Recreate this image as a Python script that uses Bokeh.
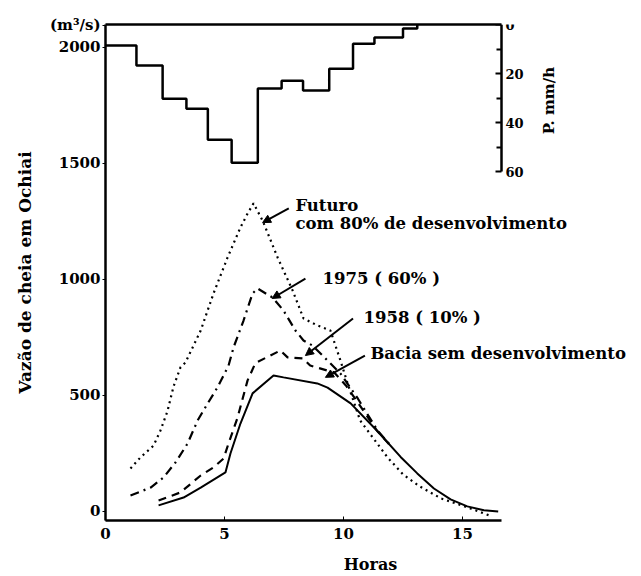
import math
from bokeh.plotting import figure
from bokeh.models import Range1d, LinearAxis, FixedTicker, Label, Arrow, NormalHead
from bokeh.embed import file_html
from bokeh.resources import INLINE

# ---------------- data ----------------
# hyetograph (rain intensity, mm/h) : step edges in hours and intensities
rain_edges = [0, 1.3, 2.4, 3.4, 4.3, 5.3, 6.4, 7.4, 8.3, 9.4, 10.4, 11.3, 12.5, 13.1]
rain_mmh = [8.6, 16.7, 30.2, 34.3, 46.9, 56.3, 26.1, 22.9, 26.9, 18.0, 7.8, 5.3, 1.6]

# hydrographs (hours, m3/s)
futuro_h = [1.05, 1.47, 2.02, 2.31, 2.6, 2.86, 3.15, 3.36, 4.0, 4.54, 5.13, 5.67, 5.97, 6.22,
            6.6, 7.23, 7.86, 8.32, 8.9, 9.45, 9.87, 10.2, 10.7, 11.85, 12.5, 13.2, 14.1, 15.2, 16.2]
futuro_q = [185, 233, 284, 349, 431, 539, 621, 642, 780, 940, 1095, 1224, 1284, 1328,
            1254, 1095, 953, 832, 802, 780, 651, 543, 392, 233, 160, 108, 56, 18, -20]

y1975_h = [1.05, 1.9, 2.44, 2.94, 3.45, 3.87, 4.29, 4.7, 5.17, 5.38, 5.8, 6.18, 6.39,
           7.02, 7.48, 7.98, 8.32, 8.7, 9.87, 10.6, 11.43, 12.0]
y1975_q = [69, 103, 147, 211, 293, 392, 465, 534, 629, 707, 823, 940, 961,
           922, 866, 780, 737, 715, 595, 487, 349, 281]

y1958_h = [2.23, 3.15, 4.0, 4.54, 4.96, 5.17, 5.55, 5.97, 6.3, 7.35, 7.65, 8.3, 8.6, 9.3,
           9.6, 10.1, 10.6, 11.4, 12.0]
y1958_q = [47, 82, 155, 190, 228, 293, 405, 565, 640, 694, 664, 660, 629, 608,
           600, 543, 470, 349, 281]

bacia_h = [2.23, 3.28, 4.0, 5.04, 5.25, 5.67, 6.18, 7.06, 7.48, 8.9, 9.33, 10.3, 11.4,
           12.4, 13.1, 13.8, 14.5, 15.2, 15.9, 16.5]
bacia_q = [26, 60, 103, 168, 250, 379, 509, 586, 578, 552, 534, 466, 349,
           235, 164, 99, 52, 22, 5, 0]

q_ticks = [0, 500, 1000, 1500, 2000]
q_unit_label = "(m³/s)"
h_ticks = [0, 5, 10, 15]
p_ticks = [0, 20, 40, 60]
p_minor = [10, 30, 50]

label_texts = ["Futuro", "com 80% de desenvolvimento", "1975 ( 60% )",
               "1958 ( 10% )", "Bacia sem desenvolvimento"]

FONT = "DejaVu Serif"
INK = "black"
H_END = 16.64      # end of the time axis (hours)
Q_START, Q_END = -39, 2099
FW = 530

# ---------------- figure ----------------
p = figure(frame_width=FW, frame_height=496, output_backend="svg", toolbar_location=None,
           x_range=Range1d(0, FW / 23.8), y_range=Range1d(Q_START, Q_END),
           min_border_left=105, min_border_right=0, min_border_top=24,
           min_border_bottom=56)
p.extra_y_ranges = {"rain": Range1d(start=202, end=0)}
p.outline_line_color = None
p.xgrid.visible = False
p.ygrid.visible = False
p.background_fill_color = "white"
p.border_fill_color = "white"

# left axis (unit label drawn as an extra tick label at the top)
ya = p.yaxis[0]
ya.ticker = FixedTicker(ticks=q_ticks + [Q_END - 4])
ya.major_label_overrides = {Q_END - 4: q_unit_label}
ya.axis_line_width = 2.5
ya.axis_line_color = INK
ya.major_tick_line_color = INK
ya.major_tick_in = 0
ya.major_tick_out = 3
ya.minor_tick_line_color = None
ya.major_label_standoff = 2
ya.major_label_text_font = FONT
ya.major_label_text_font_style = "bold"
ya.major_label_text_font_size = "15px"
ya.major_label_text_color = INK
ya.axis_label = "Vazão de cheia em Ochiai"
ya.axis_label_text_font = FONT
ya.axis_label_text_font_style = "bold"
ya.axis_label_text_font_size = "17px"
ya.axis_label_text_color = INK
ya.axis_label_standoff = 12

# bottom axis
xa = p.xaxis[0]
xa.bounds = (0, H_END)
xa.ticker = FixedTicker(ticks=h_ticks)
xa.axis_line_width = 2.5
xa.axis_line_color = INK
xa.major_tick_line_color = INK
xa.major_tick_in = 4
xa.major_tick_out = 0
xa.minor_tick_line_color = None
xa.major_label_standoff = 7
xa.major_label_text_font = FONT
xa.major_label_text_font_style = "bold"
xa.major_label_text_font_size = "15px"
xa.major_label_text_color = INK
xa.axis_label = "Horas"
xa.axis_label_text_font = FONT
xa.axis_label_text_font_style = "bold"
xa.axis_label_text_font_size = "16px"
xa.axis_label_text_color = INK
xa.axis_label_standoff = 13

# top border line
top = LinearAxis(ticker=FixedTicker(ticks=[]), axis_line_width=2.5, axis_line_color=INK,
                 bounds=(0, H_END), major_tick_line_color=None, minor_tick_line_color=None)
p.add_layout(top, "above")

# right rain axis, drawn at the end of the time axis (its labels drawn below as Labels)
ra = LinearAxis(y_range_name="rain", bounds=(0, 60), fixed_location=H_END,
                ticker=FixedTicker(ticks=p_ticks, minor_ticks=p_minor),
                major_label_overrides={t: "" for t in p_ticks},
                axis_line_width=2.5, axis_line_color=INK, major_tick_line_color=INK,
                minor_tick_line_color=INK, major_tick_in=6, major_tick_out=0,
                minor_tick_in=5, minor_tick_out=0, major_tick_line_width=2,
                minor_tick_line_width=2, major_label_standoff=0)
p.add_layout(ra, "right")
for t in p_ticks:
    p.add_layout(Label(x=H_END, y=t, x_offset=4, y_range_name="rain", text=str(t),
                       text_align="left", text_baseline="middle", text_font=FONT,
                       text_font_style="bold", text_font_size="13px", text_color=INK))

p.add_layout(Label(x=H_END, y=31, x_offset=47, y_range_name="rain", text="P. mm/h",
                   angle=math.pi / 2, text_align="center", text_baseline="middle",
                   text_font=FONT, text_font_style="bold", text_font_size="15px",
                   text_color=INK))

# hyetograph step line
hx, hy = [], []
for i, r in enumerate(rain_mmh):
    hx += [rain_edges[i], rain_edges[i + 1]]
    hy += [r, r]
hx.append(rain_edges[-1])
hy.append(0)
p.line(hx, hy, y_range_name="rain", line_color=INK, line_width=2.5)

# hydrographs
p.line(futuro_h, futuro_q, line_color=INK, line_width=2.2, line_dash="2 4")
p.line(y1975_h, y1975_q, line_color=INK, line_width=2.2, line_dash="9 5 2 5")
p.line(y1958_h, y1958_q, line_color=INK, line_width=2.2, line_dash="8 6")
p.line(bacia_h, bacia_q, line_color=INK, line_width=2)

# labels with leader arrows
lab_x = [7.98, 7.98, 9.12, 10.84, 11.13]
lab_y = [1319, 1241, 1004, 836, 681]
for t, lx, ly in zip(label_texts, lab_x, lab_y):
    p.add_layout(Label(x=lx, y=ly, text=t, text_align="left", text_baseline="middle",
                       text_font=FONT, text_font_style="bold", text_font_size="16.5px",
                       text_color=INK))

arrows = [((7.7, 1306), (6.6, 1245)),
          ((8.4, 1004), (7.0, 918)),
          ((10.4, 832), (8.4, 672)),
          ((10.9, 672), (9.24, 578))]
for (x0, y0), (x1, y1) in arrows:
    p.add_layout(Arrow(x_start=x0, y_start=y0, x_end=x1, y_end=y1, line_width=2,
                       line_color=INK,
                       end=NormalHead(size=8, fill_color=INK, line_color=INK)))

open("out.html", "w").write(file_html(p, INLINE))
